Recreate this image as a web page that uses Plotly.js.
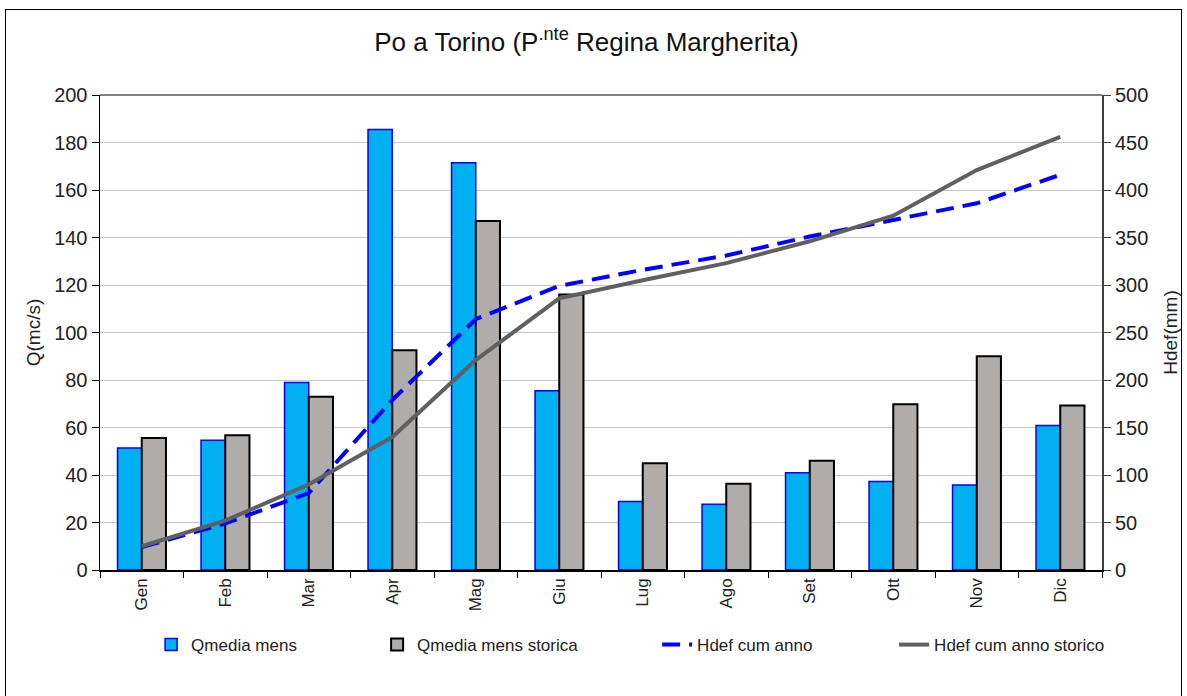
<!DOCTYPE html>
<html>
<head>
<meta charset="utf-8">
<script src="https://cdn.plot.ly/plotly-3.0.1.min.js"></script>
<style>
html,body{margin:0;padding:0;background:#fff;}
#frame{position:absolute;left:5px;top:9px;width:1177px;height:700px;border:1px solid #000;box-sizing:border-box;}
#chart{position:absolute;left:0;top:0;width:1187px;height:696px;}
</style>
</head>
<body>
<div id="frame"></div>
<div id="chart"></div>
<script>
const months = ["Gen","Feb","Mar","Apr","Mag","Giu","Lug","Ago","Set","Ott","Nov","Dic"];
const qMediaMens = [51.4, 54.6, 79, 185.5, 171.5, 75.5, 28.8, 27.7, 41, 37.3, 35.8, 60.8];
const qMediaMensStorica = [55.6, 56.7, 73, 92.5, 147, 116, 45, 36.3, 46, 69.8, 90, 69.3];
const hdefCumAnno = [24, 49, 81, 179, 264, 299, 316, 331, 351, 369, 386, 416];
const hdefCumAnnoStorico = [25, 52, 90, 140, 221, 286, 305, 323, 346, 373, 421, 456];

const fontFam = '"Liberation Sans", Arial, sans-serif';

const traces = [
  {type:'bar', name:'Qmedia mens', x:months, y:qMediaMens,
   marker:{color:'#00B0F0', line:{color:'#0000FF', width:1.5}}, legendwidth:181},
  {type:'bar', name:'Qmedia mens storica', x:months, y:qMediaMensStorica,
   marker:{color:'#B0ACAA', line:{color:'#000000', width:2}}, legendwidth:235},
  {type:'scatter', mode:'lines', name:'Hdef cum anno', x:months, y:hdefCumAnno, yaxis:'y2',
   line:{color:'#0000FF', width:4, dash:'18px,9px'}, legendwidth:192},
  {type:'scatter', mode:'lines', name:'Hdef cum anno storico', x:months, y:hdefCumAnnoStorico, yaxis:'y2',
   line:{color:'#606060', width:4}, legendwidth:165}
];

const layout = {
  width:1187, height:696,
  paper_bgcolor:'rgba(0,0,0,0)', plot_bgcolor:'#fff',
  margin:{l:100, r:85, t:95, b:126},
  font:{family:fontFam, size:16, color:'#222'},
  title:{text:'Po a Torino (P<sup>.nte</sup> Regina Margherita)', x:0.494, xanchor:'center', y:0.94, yanchor:'middle',
         font:{family:fontFam, size:26, color:'#111'}},
  barmode:'group', bargap:0.42, bargroupgap:0,
  showlegend:true,
  legend:{orientation:'h', x:0.051, xanchor:'left', y:-0.158, yanchor:'middle',
          font:{family:fontFam, size:17, color:'#222'}, bgcolor:'rgba(0,0,0,0)', traceorder:'normal'},
  xaxis:{type:'category', showline:true, linecolor:'#000', linewidth:1.5,
         ticks:'outside', tickson:'boundaries', ticklen:6, tickcolor:'#000',
         tickangle:-90, tickfont:{size:17, color:'#222'}, showgrid:false, zeroline:false},
  yaxis:{range:[0,200], dtick:20, showline:true, linecolor:'#000', linewidth:1.5,
         ticks:'outside', ticklen:7, tickcolor:'#000', gridcolor:'#C8C8C8', gridwidth:1,
         zeroline:false, tickfont:{size:20, color:'#222'},
         title:{text:'Q(mc/s)', font:{size:19, color:'#222'}, standoff:8}},
  yaxis2:{range:[0,500], dtick:50, overlaying:'y', side:'right', showline:true,
          linecolor:'#404040', linewidth:2, ticks:'outside', ticklen:7, tickcolor:'#404040',
          showgrid:false, zeroline:false, tickfont:{size:20, color:'#222'},
          title:{text:'Hdef(mm)', font:{size:19, color:'#222'}, standoff:16}},
  shapes:[{type:'line', xref:'paper', yref:'paper', x0:0, x1:1, y0:1, y1:1, line:{color:'#808080', width:2}}]
};

Plotly.newPlot('chart', traces, layout, {displayModeBar:false, staticPlot:true});
</script>
</body>
</html>
